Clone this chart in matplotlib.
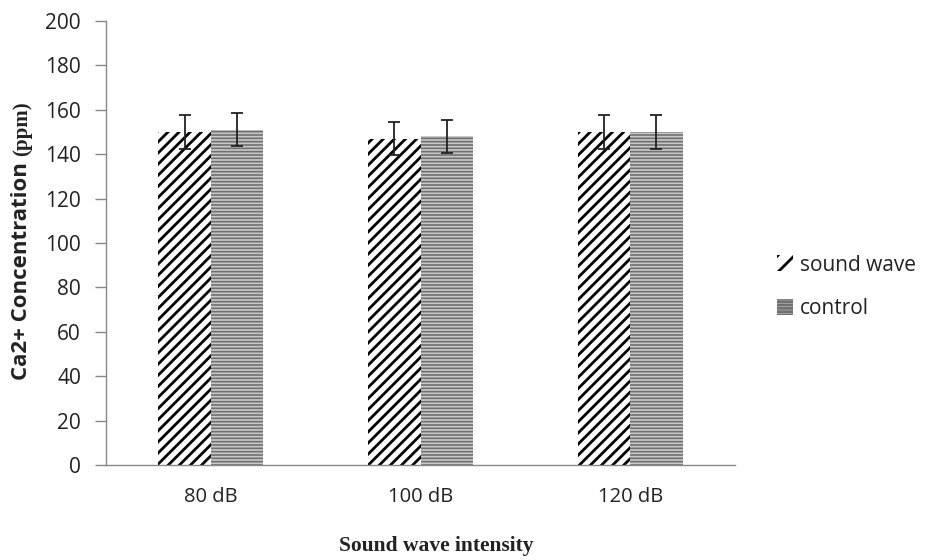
import numpy as np
import matplotlib.pyplot as plt
from matplotlib.patches import Patch

# 数据
categories = ['80 dB', '100 dB', '120 dB']
sound_wave = [150, 147, 150]
sound_wave_err = [7.5, 7.5, 7.5]
control = [151, 148, 150]
control_err = [7.5, 7.5, 7.5]
y_ticks = [0, 20, 40, 60, 80, 100, 120, 140, 160, 180, 200]

plt.rcParams['font.family'] = ['Open Sans', 'DejaVu Sans']
plt.rcParams['hatch.linewidth'] = 2.0

fig = plt.figure(figsize=(9.3, 5.6), dpi=100)
ax = fig.add_axes([106/930, 1-465/560, 629/930, 444/560])

x = np.arange(len(categories))
w = 0.25
ax.bar(x - w/2, sound_wave, w, color='white', edgecolor='black', hatch='///', linewidth=0)
plt.rcParams['hatch.linewidth'] = 1.2
ax.bar(x + w/2, control, w, color='#c8c8c8', edgecolor='#707070', hatch='-----', linewidth=0)
ax.errorbar(x - w/2, sound_wave, yerr=sound_wave_err, fmt='none', ecolor='#222222',
            elinewidth=1.3, capsize=4.5, capthick=1.3)
ax.errorbar(x + w/2, control, yerr=control_err, fmt='none', ecolor='#222222',
            elinewidth=1.3, capsize=4.5, capthick=1.3)

ax.set_xlim(-0.5, 2.5)
ax.set_ylim(0, 200)
ax.set_yticks(y_ticks)
ax.set_xticks(x)
ax.set_xticklabels(categories)
ax.tick_params(axis='x', length=0, pad=16, labelsize=14.5, colors='#222222')
ax.tick_params(axis='y', length=8, width=1, color='#888888', labelsize=15,
               labelcolor='#222222', pad=10)
for s in ['top', 'right']:
    ax.spines[s].set_visible(False)
for s in ['left', 'bottom']:
    ax.spines[s].set_color('#888888')
    ax.spines[s].set_linewidth(1)

# y轴标签：两种字体
t1 = fig.text(22/930, 1-380/560, 'Ca2+ Concentration ', rotation=90, ha='center',
              va='bottom', fontsize=16, fontweight='bold', color='#222222')
fig.canvas.draw()
bb = t1.get_window_extent(fig.canvas.get_renderer())
fig.text(22/930, bb.y1/560, '(ppm)', rotation=90, ha='center', va='bottom',
         fontsize=15, fontweight='bold', family='Liberation Serif', color='#222222')

fig.text(436/930, 1-546/560, 'Sound wave intensity', ha='center', va='center',
         fontsize=15.5, fontweight='bold', family='Liberation Serif', color='#222222')

plt.rcParams['hatch.linewidth'] = 2.0
handles = [Patch(facecolor='white', edgecolor='black', hatch='//', linewidth=0),
           Patch(facecolor='#c8c8c8', edgecolor='#707070', hatch='-----', linewidth=0)]
fig.legend(handles, ['sound wave', 'control'], loc='center left',
           bbox_to_anchor=(758/930, 1-287/560), frameon=False, fontsize=15,
           handlelength=0.8, handleheight=0.8, handletextpad=0.3, labelspacing=1.1,
           labelcolor='#222222')

fig.savefig('out.png', dpi=100)
